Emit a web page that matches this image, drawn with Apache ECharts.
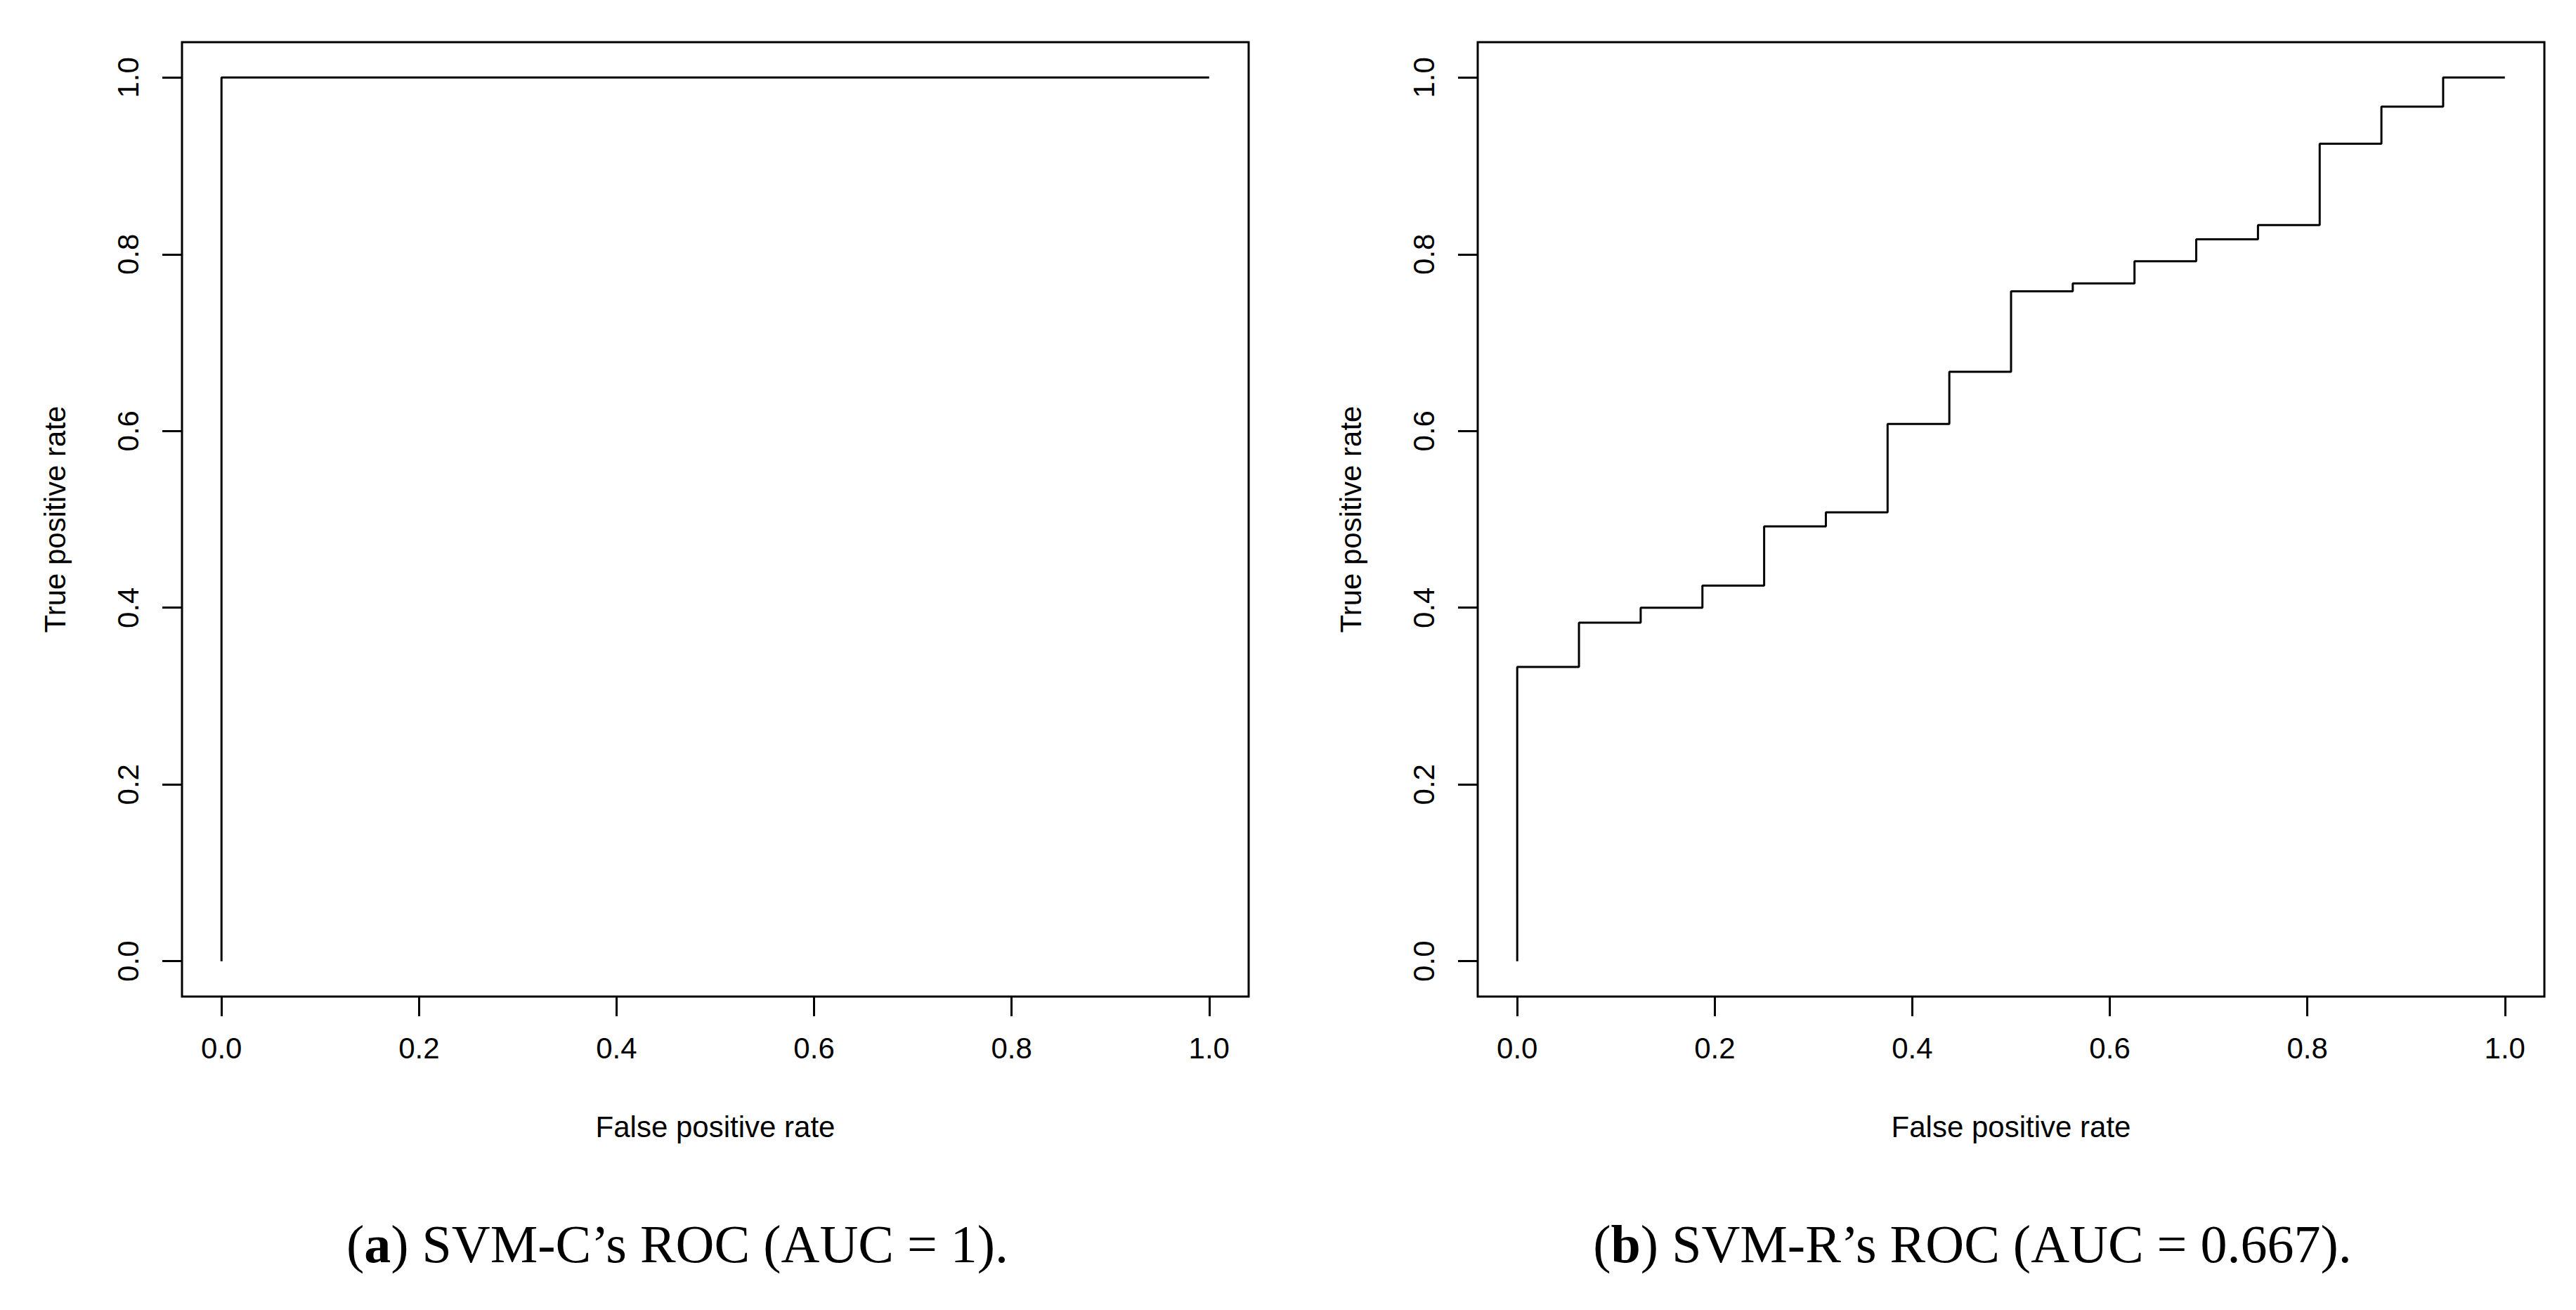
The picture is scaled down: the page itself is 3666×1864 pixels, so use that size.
<!DOCTYPE html>
<html>
<head>
<meta charset="utf-8">
<script src="https://cdn.jsdelivr.net/npm/echarts@6/dist/echarts.min.js"></script>
<style>
  html, body { margin: 0; padding: 0; background: #fff; }
  #chart { width: 3666px; height: 1864px; }
</style>
</head>
<body>
<div id="chart"></div>
<script>
// ---- data ----
const tickValues = [0, 0.2, 0.4, 0.6, 0.8, 1.0];

// (a) SVM-C
const fprA = [0, 0, 1];
const tprA = [0, 1, 1];

// (b) SVM-R, corner points of the step curve
const fprB = [0, 0, 0.0625, 0.125, 0.1875, 0.25, 0.3125, 0.375, 0.4375, 0.5,
  0.5625, 0.625, 0.6875, 0.75, 0.8125, 0.875, 0.9375, 1];
const tprB = [0, 0.333, 0.383, 0.4, 0.425, 0.492, 0.508, 0.608, 0.667, 0.758,
  0.767, 0.792, 0.817, 0.833, 0.925, 0.967, 1, 1];

const captionA = ['a', ') SVM-C\u2019s ROC (AUC = 1).'];
const captionB = ['b', ') SVM-R\u2019s ROC (AUC = 0.667).'];

const SANS = 'Liberation Sans';
const SERIF = 'Liberation Serif';

const chart = echarts.init(document.getElementById('chart'), null, { renderer: 'svg' });

const pairs = (xs, ys) => xs.map((x, i) => [x, ys[i]]);

function grid(left) {
  return {
    left: left, top: 60, width: 1518, height: 1358,
    show: true, borderColor: '#000', borderWidth: 3, backgroundColor: 'transparent'
  };
}

function xAxis(gridIndex) {
  return {
    type: 'value', gridIndex, min: -0.04, max: 1.04, position: 'bottom',
    name: 'False positive rate', nameLocation: 'middle', nameGap: 164,
    nameTextStyle: { fontFamily: SANS, fontSize: 42, color: '#000' },
    axisLine: { show: false, onZero: false },
    splitLine: { show: false },
    axisTick: { show: true, inside: false, customValues: tickValues, length: 28, lineStyle: { color: '#000', width: 3 } },
    axisLabel: {
      customValues: tickValues, margin: 52, fontFamily: SANS, fontSize: 42, color: '#000',
      formatter: v => v.toFixed(1)
    }
  };
}

function yAxis(gridIndex) {
  return {
    type: 'value', gridIndex, min: -0.04, max: 1.04, position: 'left',
    name: 'True positive rate', nameLocation: 'middle', nameGap: 160, nameRotate: 90,
    nameTextStyle: { fontFamily: SANS, fontSize: 42, color: '#000' },
    axisLine: { show: false, onZero: false },
    splitLine: { show: false },
    axisTick: { show: true, inside: false, customValues: tickValues, length: 28, lineStyle: { color: '#000', width: 3 } },
    axisLabel: {
      customValues: tickValues, margin: 56, rotate: 90, fontFamily: SANS, fontSize: 42, color: '#000',
      formatter: v => v.toFixed(1)
    }
  };
}

function caption(parts, x) {
  return {
    type: 'text', x: x, y: 1770,
    style: {
      text: '{p|(}{b|' + parts[0] + '}{p|' + parts[1] + '}',
      textAlign: 'center', textVerticalAlign: 'middle',
      rich: {
        p: { fontFamily: SERIF, fontSize: 76, fill: '#000' },
        b: { fontFamily: SERIF, fontSize: 76, fontWeight: 'bold', fill: '#000' }
      }
    }
  };
}

chart.setOption({
  backgroundColor: '#fff',
  animation: false,
  grid: [grid(259), grid(2103)],
  xAxis: [xAxis(0), xAxis(1)],
  yAxis: [yAxis(0), yAxis(1)],
  series: [
    {
      type: 'line', xAxisIndex: 0, yAxisIndex: 0,
      data: pairs(fprA, tprA), showSymbol: false,
      lineStyle: { color: '#000', width: 3 }
    },
    {
      type: 'line', xAxisIndex: 1, yAxisIndex: 1, step: 'end',
      data: pairs(fprB, tprB), showSymbol: false,
      lineStyle: { color: '#000', width: 3 }
    }
  ],
  graphic: [caption(captionA, 964), caption(captionB, 2807)]
});
</script>
</body>
</html>
